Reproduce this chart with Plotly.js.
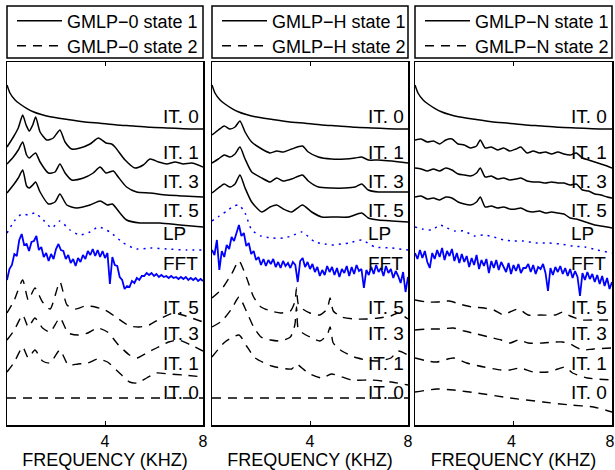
<!DOCTYPE html>
<html><head><meta charset="utf-8">
<script src="https://cdn.plot.ly/plotly-3.0.1.min.js"></script>
<style>html,body{margin:0;padding:0;background:#fff}</style>
</head><body><div id="chart" style="width:615px;height:470px"></div>
<script>
// ---------- names and labels ----------
const modelNames = ["GMLP\u22120", "GMLP\u2212H", "GMLP\u2212N"];
const stateNames = ["state 1", "state 2"];
const rowLabels = ["IT. 0","IT. 1","IT. 3","IT. 5","LP","FFT","IT. 5","IT. 3","IT. 1","IT. 0"];
const xTicks = [4, 8];
const xTitle = "FREQUENCY (KHZ)";

// ---------- spectra (frequency in kHz, relative level) ----------
// shared initial spectra
const it0_s1_x = [0,0.12,0.33,0.53,0.8,1.07,1.4,1.76,2.44,3.11,3.8,4.48,5.16,5.84,6.52,7.2,8];
const it0_s1_v = [32,24,17,13,8.7,5.3,2.5,0.3,-2.3,-4.7,-6.3,-8,-9,-10.3,-11,-11.7,-12];
const it0_s2_x = [0,8];
const it0_s2_v = [-6,-6];

// panel 1 (GMLP-0)
const p1_it1_x = [0,0.26,0.46,0.64,0.78,0.91,1.05,1.17,1.35,1.62,1.89,2.16,2.37,2.64,2.98,3.39,3.73,4.04,4.27,4.41,4.82,5.22,5.56,5.84,6.18,6.52,6.86,7.2,7.54,8];
const p1_it1_v = [5,15,24,37,27,21,27,35,20,12,14,22,10,3,4,8,14,9,8,5,-8,-16,-13,-7,-10,-12,-10,-12,-11,-15];
const p1_it3_x = [0,0.26,0.46,0.64,0.8,0.91,1.05,1.17,1.35,1.69,1.96,2.16,2.37,2.64,3.12,3.52,3.8,4.04,4.34,4.54,4.88,5.29,5.84,6.52,7.2,8];
const p1_it3_v = [17,24,31,39,26,23,26,28,19,8,9,17,8,1,3,8,14,8,10,4,-6,-11,-12,-14,-15,-16];
const p1_it5_x = [0,0.26,0.46,0.64,0.8,0.91,1.05,1.17,1.35,1.69,1.96,2.16,2.44,2.84,3.39,3.8,4.1,4.3,4.61,4.88,5.43,6.24,7.06,8];
const p1_it5_v = [17,25,32,40,24,22,25,28,18,6,8,16,5,2,5,9,5,6,-3,-10,-13,-13,-15,-17];
const p1_lp_x = [0,0.33,0.6,0.87,1.14,1.48,1.82,2.16,2.57,2.98,3.39,3.73,4.2,4.75,5.29,5.84,6.52,7.33,8];
const p1_lp_v = [0,13,19,18,20,13,5,12,3,-2,1,6,1,-10,-16,-15,-16,-17,-17];
const p1_fft_v = [-17,-6,-2,9,7,23,29,18,19,12,21,22,27,13,16,6,10,2,9,4,14,19,13,12,4,8,0,4,-3,5,1,8,4,12,8,14,7,13,6,12,5,10,-21,6,-2,-3,-14,-17,-26,-23,-24,-18,-20,-15,-17,-13,-13,-10,-12,-10,-13,-11,-14,-12,-14,-13,-15,-13,-15,-14,-16,-14,-16,-14,-17,-15,-17,-15,-18,-16,-18];
const p1_d5_x = [0,0.3,0.64,0.87,1.14,1.45,1.76,2.16,2.45,2.8,3.2,3.6,4.0,4.5,5.0,5.4,5.8,6.3,6.8,7.3,8];
const p1_d5_v = [-6,7,27,7,19,5,-2,25,2,-2,1,0,-3,-11,-19,-20,-18,-11,-6,-9,-15];
const p1_d3_x = [0,0.3,0.64,0.87,1.14,1.45,1.76,2.16,2.5,2.9,3.3,3.7,4.1,4.55,5.0,5.3,5.7,6.1,6.6,7.0,7.5,8];
const p1_d3_v = [-7,3,18,6,15,5,1,15,0,-2,0,5,1,-12,-22,-25,-20,-15,-9,-7,-12,-18];
const p1_d1_x = [0,0.3,0.64,0.87,1.14,1.45,1.76,2.16,2.5,2.9,3.3,3.7,4.1,4.55,5.0,5.3,5.7,6.1,6.6,7.2,8];
const p1_d1_v = [-9,1,16,5,13,2,0,13,-2,-1,0,4,1,-9,-19,-20,-15,-10,-11,-12,-14];

// panel 2 (GMLP-H)
const p2_it1_x = [0,0.26,0.5,0.73,0.94,1.14,1.35,1.62,2.03,2.37,2.64,2.91,3.25,3.69,3.93,4.34,4.88,5.43,5.84,6.11,6.38,6.79,7.33,8];
const p2_it1_v = [17,22,26,23,25,31,20,10,3,-1,1,0,3,6,0,-5,-7,-7,-6,-5,-8,-8,-9,-11];
const p2_it3_x = [0,0.26,0.5,0.73,0.94,1.14,1.35,1.62,2.03,2.37,2.64,2.91,3.25,3.69,3.93,4.34,4.88,5.43,5.84,6.11,6.38,6.79,7.33,8];
const p2_it3_v = [18,22,26,24,27,34,22,9,3,-1,3,0,2,6,0,-6,-7,-7,-6,-3,-9,-11,-11,-11];
const p2_it5_x = [0,0.26,0.5,0.73,0.94,1.14,1.35,1.62,2.03,2.37,2.64,2.91,3.25,3.69,4.07,4.48,5.0,5.57,6.11,6.38,6.79,7.33,8];
const p2_it5_v = [17,22,26,23,26,35,22,8,-2,3,5,1,-2,5,-2,-7,-7,-7,-3,-8,-10,-11,-12];
const p2_lp_x = [0,0.3,0.6,0.9,1.1,1.35,1.62,2.0,2.44,2.9,3.25,3.67,4.2,4.6,4.88,5.3,5.6,6.11,6.65,7.33,8];
const p2_lp_v = [12,17,22,27,28,20,3,-3,-5,-5,-3,1,-9,-11,-12,-11,-10,-7,-14,-15,-17];
const p2_fft_v = [13,8,23,-7,12,6,18,14,26,22,30,38,27,30,17,20,9,12,3,6,-2,4,-3,3,-1,4,-4,1,-5,2,-3,0,-5,1,-2,-19,2,5,-4,1,-6,-1,-9,-4,-13,-7,-12,-3,-9,-4,-12,-5,-14,-6,-10,-3,-13,-4,-11,-2,-8,-6,-25,-7,-12,-4,-11,-2,-9,-5,-13,-3,-10,-6,-15,-8,-13,-20,-9,-29,-14];
const p2_d5_x = [0,0.4,0.8,1.1,1.4,1.7,2.0,2.4,2.8,3.2,3.38,3.45,3.52,3.7,4.0,4.4,4.7,4.82,4.95,5.3,5.8,6.3,6.8,7.3,7.6,8];
const p2_d5_v = [9,18,33,46,30,10,0,-4,-6,-4,5,19,3,-2,-6,-8,-2,9,-4,-10,-12,-12,-11,-9,-6,-12];
const p2_d3_x = [0,0.4,0.8,1.1,1.4,1.7,2.0,2.4,2.8,3.2,3.38,3.45,3.52,3.7,4.0,4.4,4.7,4.82,4.95,5.3,5.8,6.3,6.8,7.3,7.6,8];
const p2_d3_v = [6,12,24,36,22,6,-4,-7,-8,-4,8,26,4,0,-4,-8,-2,6,-10,-18,-24,-27,-28,-25,-18,-22];
const p2_d1_x = [0,0.53,1.1,1.41,1.76,2.44,3.25,3.45,3.67,3.93,4.48,4.88,5.7,6.5,7.33,8];
const p2_d1_v = [6,21,28,17,5,-3,-6,-1,-5,-10,-15,-11,-17,-17,-19,-22];

// panel 3 (GMLP-N)
const p3_s_x = [0,0.25,0.5,0.75,1.0,1.25,1.5,1.75,2.0,2.25,2.5,2.65,2.85,3.1,3.35,3.6,3.85,4.1,4.3,4.55,4.8,5.05,5.3,5.55,5.8,6.05,6.3,6.55,6.8,7.05,7.3,7.55,7.8,8];
const p3_it1_v = [12,13,10,11,8,12,13,8,7,4,6,12,4,5,2,4,1,3,5,-1,1,-1,0,-2,0,-2,-3,-1,-6,-8,-10,-12,-14,-16];
const p3_it3_v = [13,12,10,12,10,13,11,7,6,5,8,13,4,5,2,3,1,2,3,0,-1,-1,-2,-1,-2,-2,-4,-3,-9,-10,-13,-14,-16,-17];
const p3_it5_v = [13,14,11,12,10,13,12,8,6,5,8,13,3,4,2,3,1,1,2,-1,-2,-1,-3,-2,-3,-4,-8,-9,-11,-13,-15,-16,-17,-18];
const p3_lp_x = [0,0.3,0.7,1.0,1.3,1.6,2.0,2.4,2.8,3.2,3.6,4.0,4.4,4.9,5.4,5.9,6.4,6.9,7.4,8];
const p3_lp_v = [6,4,3,8,5,2,2,-3,-2,-4,-7,-8,-8,-10,-10,-11,-13,-14,-17,-20];
const p3_fft_v = [10,4,13,5,12,1,-5,10,4,13,6,15,3,12,7,14,2,10,0,9,1,7,-4,5,-2,8,-6,3,-3,4,-10,2,-5,3,-7,1,-4,-9,0,-11,-2,-8,-1,-10,-5,-5,-1,-9,-2,-11,-4,-6,-1,-10,-28,-5,-12,-4,-9,-3,-11,-5,-13,-6,-15,-8,-14,-33,-10,-17,-9,-16,-11,-19,-12,-21,-13,-23,-15,-26,-19];
const p3_d5_x = [0,0.5,0.9,1.4,1.8,2.3,2.8,3.2,3.6,3.86,4.2,4.6,5.1,5.7,6.0,6.3,6.8,7.3,8];
const p3_d5_v = [7,5,5,6,3,0,-1,-3,-8,-5,-2,-8,-8,-8,-5,-9,-13,-13,-13];
const p3_d3_x = [0,0.5,1.0,1.56,2.0,2.51,3.0,3.5,3.86,4.2,4.6,5.2,5.7,6.0,6.3,6.8,7.25,8];
const p3_d3_v = [3,4,4,5,2,-1,-4,-7,-10,-7,-10,-10,-9,-9,-11,-17,-16,-15];
const p3_d1_x = [0,0.5,0.88,1.56,2.1,2.8,3.5,3.86,4.27,4.8,5.4,5.8,6.1,6.4,7.0,8];
const p3_d1_v = [5,2,1,5,0,-4,-7,-7,-5,-9,-9,-6,-4,-10,-15,-17];
const p3_d0_x = [0,0.88,1.56,2.51,3.86,5.2,6.3,7.25,8];
const p3_d0_v = [0,3,2,-1,-6,-10,-13,-15,-20];

// ---------- display layout (stacking offsets, not data) ----------
const rowOffsets = [308, 273, 244, 215, 192, 162, 118, 92, 62, 33];
const fftFreq = Array.from({length: 81}, (_, i) => i / 10);

const panelCurves = [
  { solid: [[it0_s1_x,it0_s1_v],[p1_it1_x,p1_it1_v],[p1_it3_x,p1_it3_v],[p1_it5_x,p1_it5_v]],
    lp: [p1_lp_x,p1_lp_v], fft: [fftFreq,p1_fft_v],
    dashed: [[p1_d5_x,p1_d5_v],[p1_d3_x,p1_d3_v],[p1_d1_x,p1_d1_v],[it0_s2_x,it0_s2_v]] },
  { solid: [[it0_s1_x,it0_s1_v],[p2_it1_x,p2_it1_v],[p2_it3_x,p2_it3_v],[p2_it5_x,p2_it5_v]],
    lp: [p2_lp_x,p2_lp_v], fft: [fftFreq,p2_fft_v],
    dashed: [[p2_d5_x,p2_d5_v],[p2_d3_x,p2_d3_v],[p2_d1_x,p2_d1_v],[it0_s2_x,it0_s2_v]] },
  { solid: [[it0_s1_x,it0_s1_v],[p3_s_x,p3_it1_v],[p3_s_x,p3_it3_v],[p3_s_x,p3_it5_v]],
    lp: [p3_lp_x,p3_lp_v], fft: [fftFreq,p3_fft_v],
    dashed: [[p3_d5_x,p3_d5_v],[p3_d3_x,p3_d3_v],[p3_d1_x,p3_d1_v],[p3_d0_x,p3_d0_v]] }
];

const W = 615, H = 470;
const panelPx = [[7,203],[212,408],[415,612]];
const plotTop = 62, plotBot = 425;
const legendRowY = [21, 46];
const FONT = "Liberation Sans, Arial, Helvetica, sans-serif";
const BLUE = "#0000ff";

const data = [];
const annotations = [];
const shapes = [];
const layout = {
  width: W, height: H, margin: {l:0, r:0, t:0, b:0},
  paper_bgcolor: "#fff", plot_bgcolor: "#fff",
  font: {family: FONT, color: "#000"},
  showlegend: true, annotations, shapes
};

const legName = k => k === 0 ? "legend" : "legend" + (k + 1);

panelCurves.forEach((pc, p) => {
  const sfx = p === 0 ? "" : String(p + 1);
  const xa = "x" + sfx, ya = "y" + sfx;
  const lg1 = legName(2 * p), lg2 = legName(2 * p + 1);
  const shift = (arr, off) => arr.map(v => v + off);

  pc.solid.forEach((c, i) => {
    data.push({type:"scatter", mode:"lines", x:c[0], y:shift(c[1], rowOffsets[i]),
      xaxis:xa, yaxis:ya, legend:lg1,
      name: modelNames[p] + " " + stateNames[0], showlegend: i === 0,
      line:{color:"#000", width:1.5, shape:"spline", smoothing:0.6}, hoverinfo:"skip"});
  });
  data.push({type:"scatter", mode:"lines", x:pc.lp[0], y:shift(pc.lp[1], rowOffsets[4]),
    xaxis:xa, yaxis:ya, showlegend:false, name:"LP",
    line:{color:BLUE, width:1.5, dash:"2px,5px", shape:"spline", smoothing:0.6}, hoverinfo:"skip"});
  data.push({type:"scatter", mode:"lines", x:pc.fft[0], y:shift(pc.fft[1], rowOffsets[5]),
    xaxis:xa, yaxis:ya, showlegend:false, name:"FFT",
    line:{color:BLUE, width:1.8}, hoverinfo:"skip"});
  pc.dashed.forEach((c, i) => {
    data.push({type:"scatter", mode:"lines", x:c[0], y:shift(c[1], rowOffsets[6 + i]),
      xaxis:xa, yaxis:ya, legend:lg2,
      name: modelNames[p] + " " + stateNames[1], showlegend: i === 0,
      line:{color:"#000", width:1.4, dash:"9px,7px", shape:"spline", smoothing:0.6}, hoverinfo:"skip"});
  });

  const [l, r] = panelPx[p];
  layout["xaxis" + sfx] = {
    domain:[l / W, r / W], anchor: ya, range:[0, 8],
    tickvals: xTicks, ticks:"inside", ticklen:4, tickwidth:1, tickcolor:"#000",
    showline:true, linecolor:"#000", linewidth:1.5, mirror:"ticks",
    showgrid:false, zeroline:false, ticklabeloverflow:"allow",
    ticklabelstandoff:1, ticklabelshift: p === 2 ? -2 : 0,
    tickfont:{size:16, family:FONT},
    title:{text:xTitle, font:{size:18, family:FONT}, standoff:6}
  };
  layout["yaxis" + sfx] = {
    domain:[1 - plotBot / H, 1 - plotTop / H], anchor: xa, range:[0, 363],
    showline:true, linecolor:"#000", linewidth:1.5, mirror:true,
    showticklabels:false, ticks:"", showgrid:false, zeroline:false
  };
  [lg1, lg2].forEach((lg, k) => {
    layout[lg] = {
      x:(l + 5) / W, xanchor:"left", y:1 - legendRowY[k] / H, yanchor:"middle",
      bgcolor:"rgba(0,0,0,0)", borderwidth:0, itemwidth:45,
      font:{size:18, family:FONT, color:"#000"}
    };
  });
  shapes.push({type:"rect", xref:"paper", yref:"paper",
    x0:l / W, x1:r / W, y0:1 - 58 / H, y1:1 - 6 / H,
    line:{color:"#000", width:1.5}, fillcolor:"rgba(0,0,0,0)"});
  rowLabels.forEach((t, i) => {
    annotations.push({xref:xa, yref:ya, x:6.27, y:rowOffsets[i], text:t,
      xanchor:"left", yanchor:"middle", showarrow:false,
      font:{size:19, family:FONT, color:"#000"}});
  });
});

Plotly.newPlot("chart", data, layout, {staticPlot:true, displayModeBar:false});
</script></body></html>
